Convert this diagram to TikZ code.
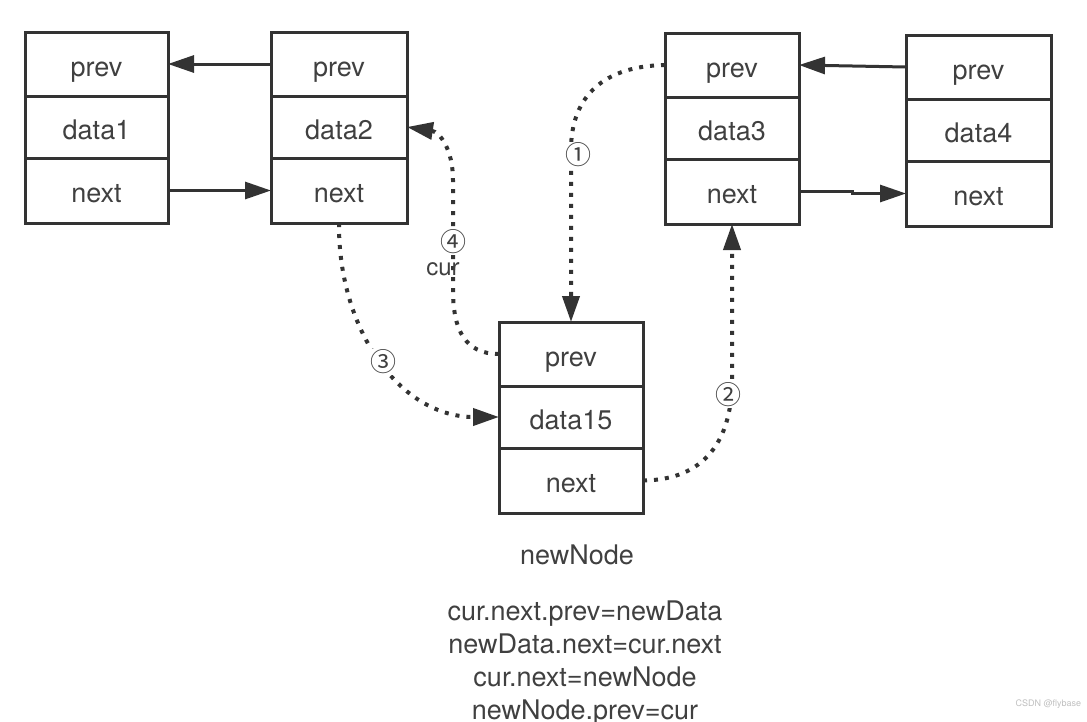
\documentclass[tikz,border=0pt]{standalone}
\usepackage{fontspec}
\setmainfont{TeX Gyre Heros}
\newfontfamily\circfont{Noto Sans CJK SC}
\usepackage{tikz}
\usetikzlibrary{arrows.meta}
\usetikzlibrary{calc,positioning}
\tikzset{>={Triangle[length=26pt,width=17pt]}}
\usepackage{xcolor}
\colorlet{mydarkgray}{black!80}
\colorlet{mytextgray}{black!75}
\colorlet{mymarkgray}{black!25}

\begin{document}
\begin{tikzpicture}[x=1pt,y=-1pt,
        txt/.style={text=mytextgray,font=\fontsize{27}{33}\selectfont},
        cell/.style={txt,draw=mydarkgray,line width=3pt,outer sep=0pt,inner sep=0pt,text height=24pt,text depth=0pt},
        link/.style={->,draw=mydarkgray,line width=3pt},
        ptr/.style={->,draw=mydarkgray,line width=4pt,dash pattern=on 4pt off 7pt},
        num/.style={fill=white,inner sep=1pt,text=mytextgray,font=\circfont\fontsize{26}{26}\selectfont}]

        \useasboundingbox (0,0) rectangle (1087,721);

        % #1 name, #2 #3 top left corner, #4 width, #5 data
        \def\listnode#1#2#3#4#5{%
            \node[cell,minimum width=#4pt,minimum height=64pt,anchor=north west] (#1p) at (#2,#3) {prev};
            \node[cell,minimum width=#4pt,minimum height=62pt,below=0pt of #1p] (#1d) {#5};
            \node[cell,minimum width=#4pt,minimum height=65pt,below=0pt of #1d] (#1n) {next};}

        % NODES
        \listnode{a}{25}{32}{143}{data1}
        \listnode{b}{271}{32}{136}{data2}
        \listnode{c}{665}{33}{134}{data3}
        \listnode{d}{906}{35}{145}{data4}
        \listnode{e}{499}{322}{144}{data15} % new node

        \node[txt] (newlbl) at (577,555) {newNode};
        \node[txt,align=center,anchor=north,inner sep=0pt] (ops) at (585,601)
            {cur.next.prev=newData\\newData.next=cur.next\\cur.next=newNode\\newNode.prev=cur};

        % OLD LINKS
        \draw[link] (bp.west) -- (ap.east);
        \draw[link] (an.east) -- (bn.west);
        \draw[link] (dp.west) -- (cp.east);
        \draw[link] (cn.east) -- ++(53,0) |- (dn.west);

        % NEW LINKS
        \draw[ptr] (cp.west) .. controls (605,66) and (571,95) .. (571,150) -- (ep.north);
        \draw[ptr] (en.east) .. controls (705,480) and (732,440) .. (732,380) -- (cn.south);
        \draw[ptr] (bn.south) .. controls (338,330) and (400,417) .. (ed.west);
        \draw[ptr] (ep.west) .. controls (465,354) and (453,330) .. (453,290) -- (453,180)
            .. controls (453,150) and (440,132) .. (bd.east);

        % STEPS
        \node[num] (s1) at (578,155) {①};
        \node[num] (s2) at (728,395) {②};
        \node[num] (s3) at (383,362) {③};
        \node[num] (s4) at (453,242) {④};
        \node[txt,inner sep=0pt,font=\fontsize{24}{24}\selectfont] (curlbl) at (443,269) {cur};

        \node[anchor=west,text=mymarkgray,font=\fontsize{9}{9}\selectfont] (mark) at (1012,704) {CSDN @flybase};

    \end{tikzpicture}
\end{document}
